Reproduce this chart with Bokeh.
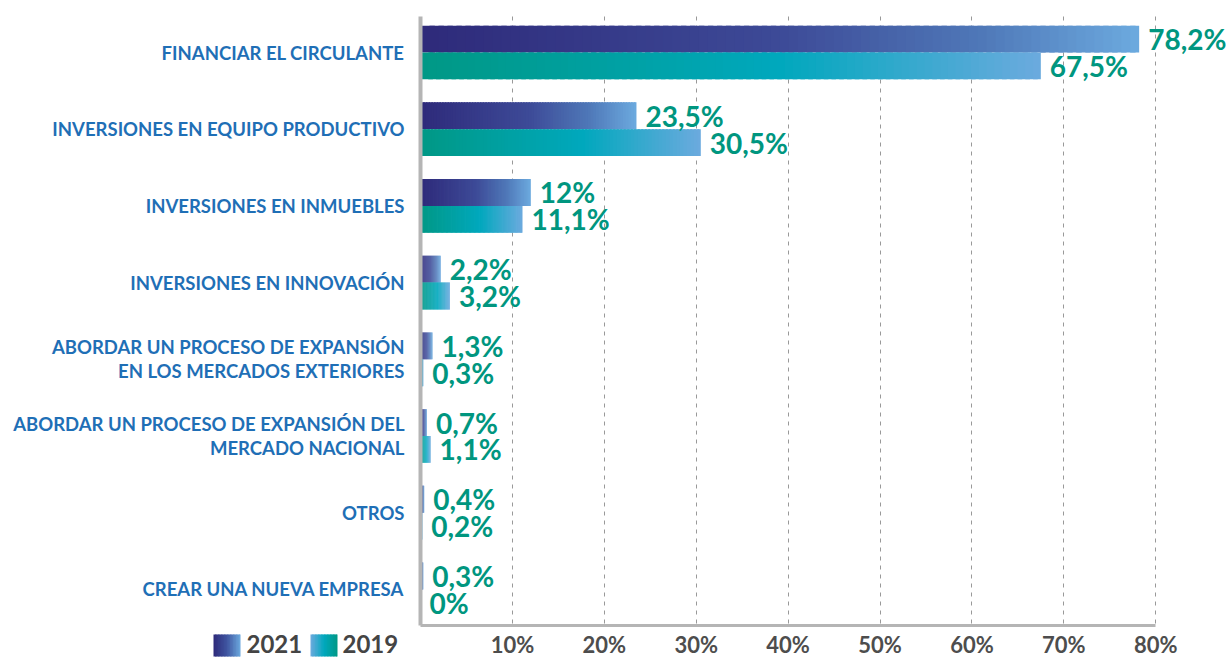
from bokeh.plotting import figure
from bokeh.models import (Range1d, FixedTicker, ColumnDataSource, LabelSet, Label,
                          BoxAnnotation, PrintfTickFormatter)
from bokeh.embed import file_html
from bokeh.resources import INLINE
from bokeh.core.properties import value

# ---------------- data ----------------
categories = [
    "FINANCIAR EL CIRCULANTE",
    "INVERSIONES EN EQUIPO PRODUCTIVO",
    "INVERSIONES EN INMUEBLES",
    "INVERSIONES EN INNOVACIÓN",
    "ABORDAR UN PROCESO DE EXPANSIÓN\nEN LOS MERCADOS EXTERIORES",
    "ABORDAR UN PROCESO DE EXPANSIÓN DEL\nMERCADO NACIONAL",
    "OTROS",
    "CREAR UNA NUEVA EMPRESA",
]
values_2021 = [78.2, 23.5, 12.0, 2.2, 1.3, 0.7, 0.4, 0.3]
values_2019 = [67.5, 30.5, 11.1, 3.2, 0.3, 1.1, 0.2, 0.0]
series_names = ["2021", "2019"]
x_ticks = [10, 20, 30, 40, 50, 60, 70, 80]

# ---------------- layout / style ----------------
W, H = 1230, 657
PX_PER_PCT = 9.19         # horizontal scale
ZERO_PX = 420             # pixels from figure left to the 0 % line
PX_PER_CAT = 76.7         # vertical distance between categories
CAT0_PX = 52              # pixels from figure top to first category centre
X_MIN = -ZERO_PX / PX_PER_PCT
X_MAX = (W - ZERO_PX) / PX_PER_PCT
Y_TOP = -CAT0_PX / PX_PER_CAT
Y_BOTTOM = Y_TOP + H / PX_PER_CAT
AXIS_TOP = -0.47
AXIS_Y = len(categories) - 1 + 0.47
BAR_H = 0.35

GRAD_2021 = [(0.0, "#2e2a7a"), (0.5, "#3d4a97"), (0.78, "#4f78b8"), (1.0, "#6caadf")]
GRAD_2019 = [(0.0, "#009885"), (0.58, "#00a8bd"), (1.0, "#6caade")]
LABEL_GREEN = "#00967f"
CAT_BLUE = "#1f6fb6"
AXIS_GREY = "#b5b5b5"
TICK_GREY = "#4d4d4d"
FONT = "Lato"


def hex2rgb(h):
    h = h.lstrip("#")
    return tuple(int(h[i:i + 2], 16) for i in (0, 2, 4))


def grad_color(stops, t):
    for (t0, c0), (t1, c1) in zip(stops[:-1], stops[1:]):
        if t <= t1:
            f = 0 if t1 == t0 else (t - t0) / (t1 - t0)
            a, b = hex2rgb(c0), hex2rgb(c1)
            return "#%02x%02x%02x" % tuple(round(a[k] + (b[k] - a[k]) * f) for k in range(3))
    return stops[-1][1]


def fmt(v):
    return ("%g" % v).replace(".", ",") + "%"


p = figure(width=W, height=H, output_backend="svg", toolbar_location=None,
           x_range=Range1d(X_MIN, X_MAX), y_range=Range1d(Y_BOTTOM, Y_TOP),
           min_border_left=0, min_border_right=0,
           min_border_top=0, min_border_bottom=0)
p.outline_line_color = None
p.background_fill_color = "white"
p.border_fill_color = "white"

# gradient bars: each bar split into thin slices along its own length
N = 80
for vals, stops, off in ((values_2021, GRAD_2021, -BAR_H / 2), (values_2019, GRAD_2019, BAR_H / 2)):
    ys, lefts, rights, cols = [], [], [], []
    for idx, v in enumerate(vals):
        if v <= 0:
            continue
        for i in range(N):
            ys.append(idx + off)
            lefts.append(v * i / N)
            rights.append(v * min(i + 1.6, N) / N)
            cols.append(grad_color(stops, (i + 0.5) / N))
    src = ColumnDataSource(dict(y=ys, left=lefts, right=rights, color=cols))
    p.hbar(y="y", left="left", right="right", height=BAR_H, fill_color="color",
           line_color=None, source=src)

# value labels
lab_src = ColumnDataSource(dict(
    x=values_2021 + values_2019,
    y=[i - BAR_H / 2 for i in range(len(categories))] + [i + BAR_H / 2 for i in range(len(categories))],
    text=[fmt(v) for v in values_2021] + [fmt(v) for v in values_2019],
))
p.add_layout(LabelSet(x="x", y="y", text="text", source=lab_src, x_offset=9,
                      text_baseline="middle", text_align="left",
                      text_font=value(FONT), text_font_style="bold",
                      text_font_size="28px", text_color=LABEL_GREEN))

# grid
p.xgrid.ticker = FixedTicker(ticks=x_ticks)
p.xgrid.grid_line_color = "#999999"
p.xgrid.grid_line_dash = "4 5"
p.xgrid.grid_line_width = 1
p.xgrid.cross_bounds = (AXIS_TOP, AXIS_Y)
p.ygrid.grid_line_color = None

# x axis (drawn inside the canvas at the bottom of the category area)
xa = p.xaxis[0]
xa.fixed_location = AXIS_Y
xa.ticker = FixedTicker(ticks=x_ticks)
xa.formatter = PrintfTickFormatter(format="%d%%")
xa.bounds = (0, 80)
xa.axis_line_color = AXIS_GREY
xa.axis_line_width = 3
xa.major_tick_line_color = None
xa.minor_tick_line_color = None
xa.major_label_standoff = 0
xa.major_label_text_font = FONT
xa.major_label_text_font_style = "bold"
xa.major_label_text_font_size = "22px"
xa.major_label_text_color = TICK_GREY

# y axis at 0 %
ya = p.yaxis[0]
ya.fixed_location = 0
ya.bounds = (AXIS_TOP, AXIS_Y)
ya.ticker = FixedTicker(ticks=list(range(len(categories))))
ya.major_label_overrides = {i: c for i, c in enumerate(categories)}
ya.axis_line_color = AXIS_GREY
ya.axis_line_width = 4
ya.major_tick_line_color = None
ya.minor_tick_line_color = None
ya.major_label_standoff = 10
ya.major_label_text_font = FONT
ya.major_label_text_font_style = "bold"
ya.major_label_text_font_size = "18.5px"
ya.major_label_text_color = CAT_BLUE
ya.major_label_text_line_height = 1.1


# legend (gradient swatches + text), placed below the category labels
def px_to_x(px_from_zero):
    return px_from_zero / PX_PER_PCT


def px_to_y(px_below_axis):
    return AXIS_Y + px_below_axis / PX_PER_CAT


LEG_Y0, LEG_Y1 = 9, 31  # pixels below x axis line
legend_swatches = [
    (-207, -180, [(0.0, "#2e2a7a"), (0.5, "#3f55a0"), (1.0, "#6caadf")]),
    (-110, -83, [(0.0, "#6caade"), (0.5, "#00a8bd"), (1.0, "#009885")]),
]
legend_text_x = [-174, -78]
M = 18
for (x0, x1, stops), name, tx in zip(legend_swatches, series_names, legend_text_x):
    for i in range(M):
        a = x0 + (x1 - x0) * i / M
        b = x0 + (x1 - x0) * min(i + 1.5, M) / M
        p.add_layout(BoxAnnotation(left=px_to_x(a), right=px_to_x(b),
                                   top=px_to_y(LEG_Y0), bottom=px_to_y(LEG_Y1),
                                   fill_color=grad_color(stops, (i + 0.5) / M),
                                   fill_alpha=1, line_color=None))
    p.add_layout(Label(x=px_to_x(tx), y=px_to_y(19), text=name,
                       text_baseline="middle", text_align="left",
                       text_font=FONT, text_font_style="bold",
                       text_font_size="24px", text_color="#444444"))

open("out.html", "w").write(file_html(p, INLINE))
